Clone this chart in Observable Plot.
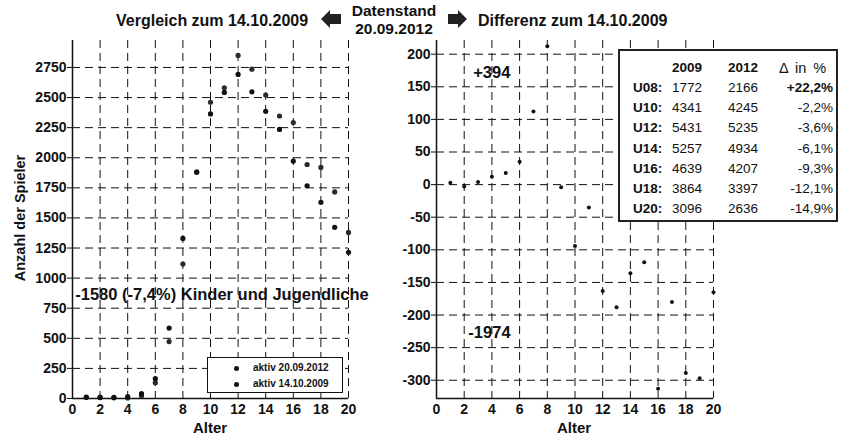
<!DOCTYPE html>
<html><head><meta charset="utf-8">
<script src="https://cdn.jsdelivr.net/npm/d3@7"></script>
<script src="https://cdn.jsdelivr.net/npm/@observablehq/plot@0.6"></script>
<style>
body{margin:0;background:#fff;font-family:"Liberation Sans",Arial,sans-serif;color:#111;}
#wrap{position:relative;width:842px;height:437px;overflow:hidden;background:#fff;}
.abs{position:absolute;white-space:nowrap;}
.b{font-weight:bold;}
#tbl{position:absolute;left:618px;top:49px;width:216px;height:169px;border:2px solid #222;background:#fff;}
#tbl div{position:absolute;font-size:13.5px;line-height:16px;white-space:nowrap;}
#leg{position:absolute;left:207px;top:357px;width:134px;height:34px;border:1.5px solid #111;background:#fff;}
#leg div{position:absolute;font-size:10px;line-height:12px;font-weight:bold;white-space:nowrap;}
#leg span.dot{position:absolute;width:5px;height:5px;border-radius:50%;background:#111;}
</style></head><body><div id="wrap"></div>
<script>
// ---- data ----
const ages = [1,2,3,4,5,6,7,8,9,10,11,12,13,14,15,16,17,18,19,20];
const aktiv2012 = [12,8,10,16,40,165,585,1330,1881,2364,2543,2692,2548,2386,2235,1972,1767,1630,1422,1214];
const aktiv2009 = [9,11,6,4,22,130,473,1117,1880,2461,2581,2850,2736,2521,2347,2292,1944,1920,1716,1380];
const differenz = [3,-3,4,12,18,35,112,212,-4,-94,-35,-163,-188,-136,-119,-313,-180,-289,-297,-165];
const xTicks = [0,2,4,6,8,10,12,14,16,18,20];
const yTicksLeft = [0,250,500,750,1000,1250,1500,1750,2000,2250,2500,2750];
const yTicksRight = [-300,-250,-200,-150,-100,-50,0,50,100,150,200];
const legendLabels = ["aktiv 20.09.2012","aktiv 14.10.2009"];
const tblGroups = ["U08:","U10:","U12:","U14:","U16:","U18:","U20:"];
const tbl2009 = [1772,4341,5431,5257,4639,3864,3096];
const tbl2012 = [2166,4245,5235,4934,4207,3397,2636];
const tblPct = ["+22,2%","-2,2%","-3,6%","-6,1%","-9,3%","-12,1%","-14,9%"];
const noteLeft = [{x:0.2, y:865, t:"-1580 (-7,4%) Kinder und Jugendliche"}];
const noteRight = [{x:2.65, y:172, t:"+394"},{x:2.3, y:-227, t:"-1974"}];

const t12 = ages.map((a,i)=>({age:a, v:aktiv2012[i]}));
const t09 = ages.map((a,i)=>({age:a, v:aktiv2009[i]}));
const tdiff = ages.map((a,i)=>({age:a, v:differenz[i]}));

const wrap = document.getElementById("wrap");
const style = {fontFamily:"Liberation Sans, Arial, sans-serif", fontSize:"14px", fontWeight:"bold", color:"#111", background:"transparent", overflow:"visible"};
const grid = {stroke:"#111", strokeDasharray:"8,5", strokeWidth:1, strokeOpacity:1};
const fmt = d => String(d);

function place(el, left, top){ el.style.position="absolute"; el.style.left=left+"px"; el.style.top=top+"px"; wrap.appendChild(el); }

const left = Plot.plot({
  width:380, height:437, marginLeft:72, marginRight:32, marginTop:40, marginBottom:39,
  x:{domain:[0,20]}, y:{domain:[0,2974]}, style,
  marks:[
    Plot.ruleX(xTicks.filter(d=>d>0), grid),
    Plot.ruleY(yTicksLeft.filter(d=>d>0), grid),
    Plot.axisX({ticks:xTicks, tickSize:0, tickPadding:6, label:null, tickFormat:fmt}),
    Plot.axisY({ticks:yTicksLeft, tickSize:5, tickPadding:1, label:null, tickFormat:fmt}),
    Plot.ruleX([0], {stroke:"#111", strokeWidth:1.5}),
    Plot.ruleY([0], {stroke:"#111", strokeWidth:1.5}),
    Plot.dot(t09, {x:"age", y:"v", r:2.6, fill:"#2a2a2a", stroke:"none"}),
    Plot.dot(t12, {x:"age", y:"v", r:2.6, fill:"#111", stroke:"none"}),
    Plot.text(noteLeft, {x:"x", y:"y", text:"t", textAnchor:"start", fontSize:16.5, fontWeight:"bold", fill:"#111"})
  ]
});
place(left, 0, 0);

const right = Plot.plot({
  width:462, height:437, marginLeft:56, marginRight:129, marginTop:40, marginBottom:39,
  x:{domain:[0,20]}, y:{domain:[-328,221]}, style,
  marks:[
    Plot.ruleX(xTicks.filter(d=>d>0), grid),
    Plot.ruleY(yTicksRight, grid),
    Plot.axisX({ticks:xTicks, tickSize:0, tickPadding:6, label:null, tickFormat:fmt}),
    Plot.axisY({ticks:yTicksRight, tickSize:5, tickPadding:1, label:null, tickFormat:fmt}),
    Plot.ruleX([0], {stroke:"#111", strokeWidth:1.5}),
    Plot.ruleY([-328], {stroke:"#111", strokeWidth:1.5}),
    Plot.dot(tdiff, {x:"age", y:"v", r:2, fill:"#111", stroke:"none"}),
    Plot.text(noteRight, {x:"x", y:"y", text:"t", textAnchor:"start", fontSize:16.5, fontWeight:"bold", fill:"#111"})
  ]
});
place(right, 380, 0);

function txt(s, x, y, cls, extra){ const d=document.createElement("div"); d.className="abs "+(cls||""); d.textContent=s; d.style.left=x+"px"; d.style.top=y+"px"; if(extra) Object.assign(d.style, extra); wrap.appendChild(d); return d; }

// titles
txt("Vergleich zum 14.10.2009", 116, 12, "b", {fontSize:"16px"});
txt("Datenstand", 348, 2, "b", {fontSize:"15.5px", width:"92px", textAlign:"center"});
txt("20.09.2012", 348, 20, "b", {fontSize:"15.5px", width:"92px", textAlign:"center"});
txt("Differenz zum 14.10.2009", 478, 12, "b", {fontSize:"16px"});
// arrows
const arr = document.createElementNS("http://www.w3.org/2000/svg","svg");
arr.setAttribute("width","842"); arr.setAttribute("height","40");
arr.innerHTML = '<polygon points="321,19 330,10 330,14 341,14 341,24 330,24 330,28" fill="#222"/>'+
                '<polygon points="467,19 458,10 458,14 448,14 448,24 458,24 458,28" fill="#222"/>';
place(arr, 0, 0);
// axis titles
txt("Alter", 0, 419, "b", {fontSize:"15px", width:"420px", textAlign:"center"});
txt("Alter", 364, 419, "b", {fontSize:"15px", width:"420px", textAlign:"center"});
txt("Anzahl der Spieler", -55, 210, "b", {fontSize:"14.5px", width:"150px", textAlign:"center", transform:"rotate(-90deg)"});

// legend
const leg = document.createElement("div"); leg.id="leg"; wrap.appendChild(leg);
legendLabels.forEach((s,i)=>{
  const dd=document.createElement("span"); dd.className="dot"; dd.style.left="26px"; dd.style.top=(8+i*16)+"px"; leg.appendChild(dd);
  const t=document.createElement("div"); t.textContent=s; t.style.left="45px"; t.style.top=(4+i*16)+"px"; leg.appendChild(t);
});

// table
const tb = document.createElement("div"); tb.id="tbl"; wrap.appendChild(tb);
function cell(s, x, y, align, bold, extra){ const d=document.createElement("div"); d.textContent=s; d.style.top=y+"px"; if(align==="right"){d.style.right=(216-x)+"px";} else d.style.left=x+"px"; if(bold) d.style.fontWeight="bold"; if(extra) Object.assign(d.style, extra); tb.appendChild(d); }
cell("2009", 82, 9, "right", true);
cell("2012", 138, 9, "right", true);
cell("Δ in %", 159, 9, "left", false, {fontSize:"14.5px", wordSpacing:"3px"});
tblGroups.forEach((g,i)=>{
  const y = 29 + i*20.2;
  cell(g, 13, y, "left", true);
  cell(String(tbl2009[i]), 82, y, "right", false);
  cell(String(tbl2012[i]), 138, y, "right", false);
  cell(tblPct[i], 213, y, "right", i===0);
});
</script></body></html>
